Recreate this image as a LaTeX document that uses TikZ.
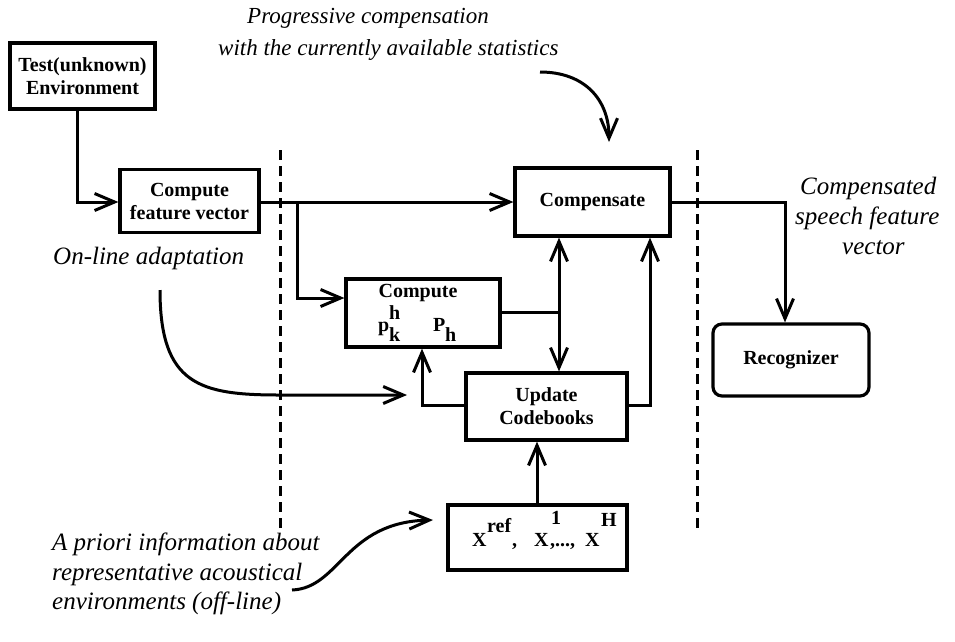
\documentclass[tikz,border=0pt]{standalone}
\usepackage{fontspec}
\setmainfont{Liberation Serif}
\usetikzlibrary{arrows.meta}
\tikzset{
  blk/.style={draw, line width=3.2pt, rectangle, inner sep=0pt, font=\fontsize{20}{23}\selectfont\bfseries, align=center},
  bt/.style={font=\fontsize{20}{23}\selectfont\bfseries, inner sep=0pt, anchor=base west},
  ital/.style={font=\fontsize{25}{29.5}\selectfont\itshape, inner sep=0pt, align=left},
  tip/.tip={Straight Barb[length=20pt,width=17pt,line width=3pt]},
  conn/.style={line width=3pt, -tip},
  plain/.style={line width=3pt},
  dash line/.style={line width=3pt, dash pattern=on 10pt off 6pt},
}
\begin{document}
\begin{tikzpicture}[x=1pt,y=-1pt]
\useasboundingbox (0,0) rectangle (955,641);
% boxes
\node[blk, minimum width=145pt, minimum height=66pt] (env) at (82.5,76) {Test(unknown)\\Environment};
\node[blk, minimum width=139pt, minimum height=63pt] (cfv) at (189.5,201) {Compute\\feature vector};
\node[blk, minimum width=155pt, minimum height=68pt] (comp) at (592.5,202) {Compensate};
\node[blk, minimum width=154pt, minimum height=68pt] (cpk) at (423,313) {};
\node[blk, minimum width=161pt, minimum height=67pt] (upd) at (546.5,406.5) {Update\\Codebooks};
\node[blk, minimum width=179pt, minimum height=65pt] (xb) at (537.5,537.5) {};
\node[blk, rounded corners=9pt, minimum width=156pt, minimum height=72pt] (rec) at (791,360) {Recognizer};
% inner texts of cpk
\node[bt, anchor=base] (cpkt) at (418,297) {Compute};
\node[bt] (cpkh) at (389,319) {h};
\node[bt] (cpkp) at (378,331) {p};
\node[bt] (cpkk) at (389,341) {k};
\node[bt] (cpkP) at (433,331) {P};
\node[bt] (cpkhs) at (445,341) {h};
% inner texts of xb
\node[bt] (x1) at (472,546) {X};
\node[bt] (x1s) at (487,532) {ref};
\node[bt] (x1c) at (512,546) {,};
\node[bt] (x2) at (534,546) {X};
\node[bt] (x2s) at (551,524) {1};
\node[bt] (x2c) at (550,546) {,...,};
\node[bt] (x3) at (585,546) {X};
\node[bt] (x3s) at (601,526) {H};
% dashed separators
\coordinate (d1a) at (280,150); \coordinate (d1b) at (280,528);
\coordinate (d2a) at (697,150); \coordinate (d2b) at (697,528);
\draw[dash line] (d1a) -- (d1b);
\draw[dash line] (d2a) -- (d2b);
% connectors
\coordinate (e1) at (77,109);
\draw[conn] (e1) |- (cfv.west |- comp.west);
\draw[conn] (cfv.east |- comp.west) -- (comp.west);
\coordinate (br) at (297,202);
\draw[conn] (br) |- (cpk.west |- 0,298);
\coordinate (jn) at (559,312);
\draw[plain] (cpk.east |- jn) -- (jn);
\draw[line width=3pt, tip-tip] (comp.south -| jn) -- (upd.north -| jn);
\coordinate (ul) at (422,405);
\draw[conn] (upd.west |- ul) -- (ul) -- (cpk.south -| ul);
\coordinate (ur) at (650,405);
\draw[conn] (upd.east |- ur) -- (ur) -- (comp.south -| ur);
\draw[conn] (xb.north -| 537,0) -- (upd.south -| 537,0);
\coordinate (cr) at (785,202);
\draw[conn] (comp.east |- cr) -- (cr) -- (rec.north -| cr);
% annotations
\node[ital, font=\fontsize{23}{27}\selectfont\itshape, anchor=west] (t1) at (247,18) {Progressive compensation};
\node[ital, font=\fontsize{23}{27}\selectfont\itshape, anchor=west] (t2) at (218,50) {with the currently available statistics};
\coordinate (c1s) at (540,72);
\coordinate (c1e) at (609,142);
\draw[conn] (c1s) .. controls (585,72) and (609,100) .. (c1e);
\node[ital, anchor=west] (t3) at (800,188) {Compensated};
\node[ital, anchor=west] (t4) at (795,218) {speech feature};
\node[ital, anchor=west] (t5) at (842,248) {vector};
\node[ital, anchor=west] (t6) at (53,258) {On-line adaptation};
\coordinate (c2s) at (160,290);
\coordinate (c2e) at (407,395);
\draw[conn] (c2s) .. controls (160,385) and (200,395) .. (280,395) -- (c2e);
\node[ital, anchor=north west] (t7) at (52,533) {A priori information about\\representative acoustical\\environments (off-line)};
\coordinate (c3s) at (292,590);
\coordinate (c3e) at (433,520);
\draw[conn] (c3s) .. controls (340,588) and (345,522) .. (c3e);
\end{tikzpicture}
\end{document}
